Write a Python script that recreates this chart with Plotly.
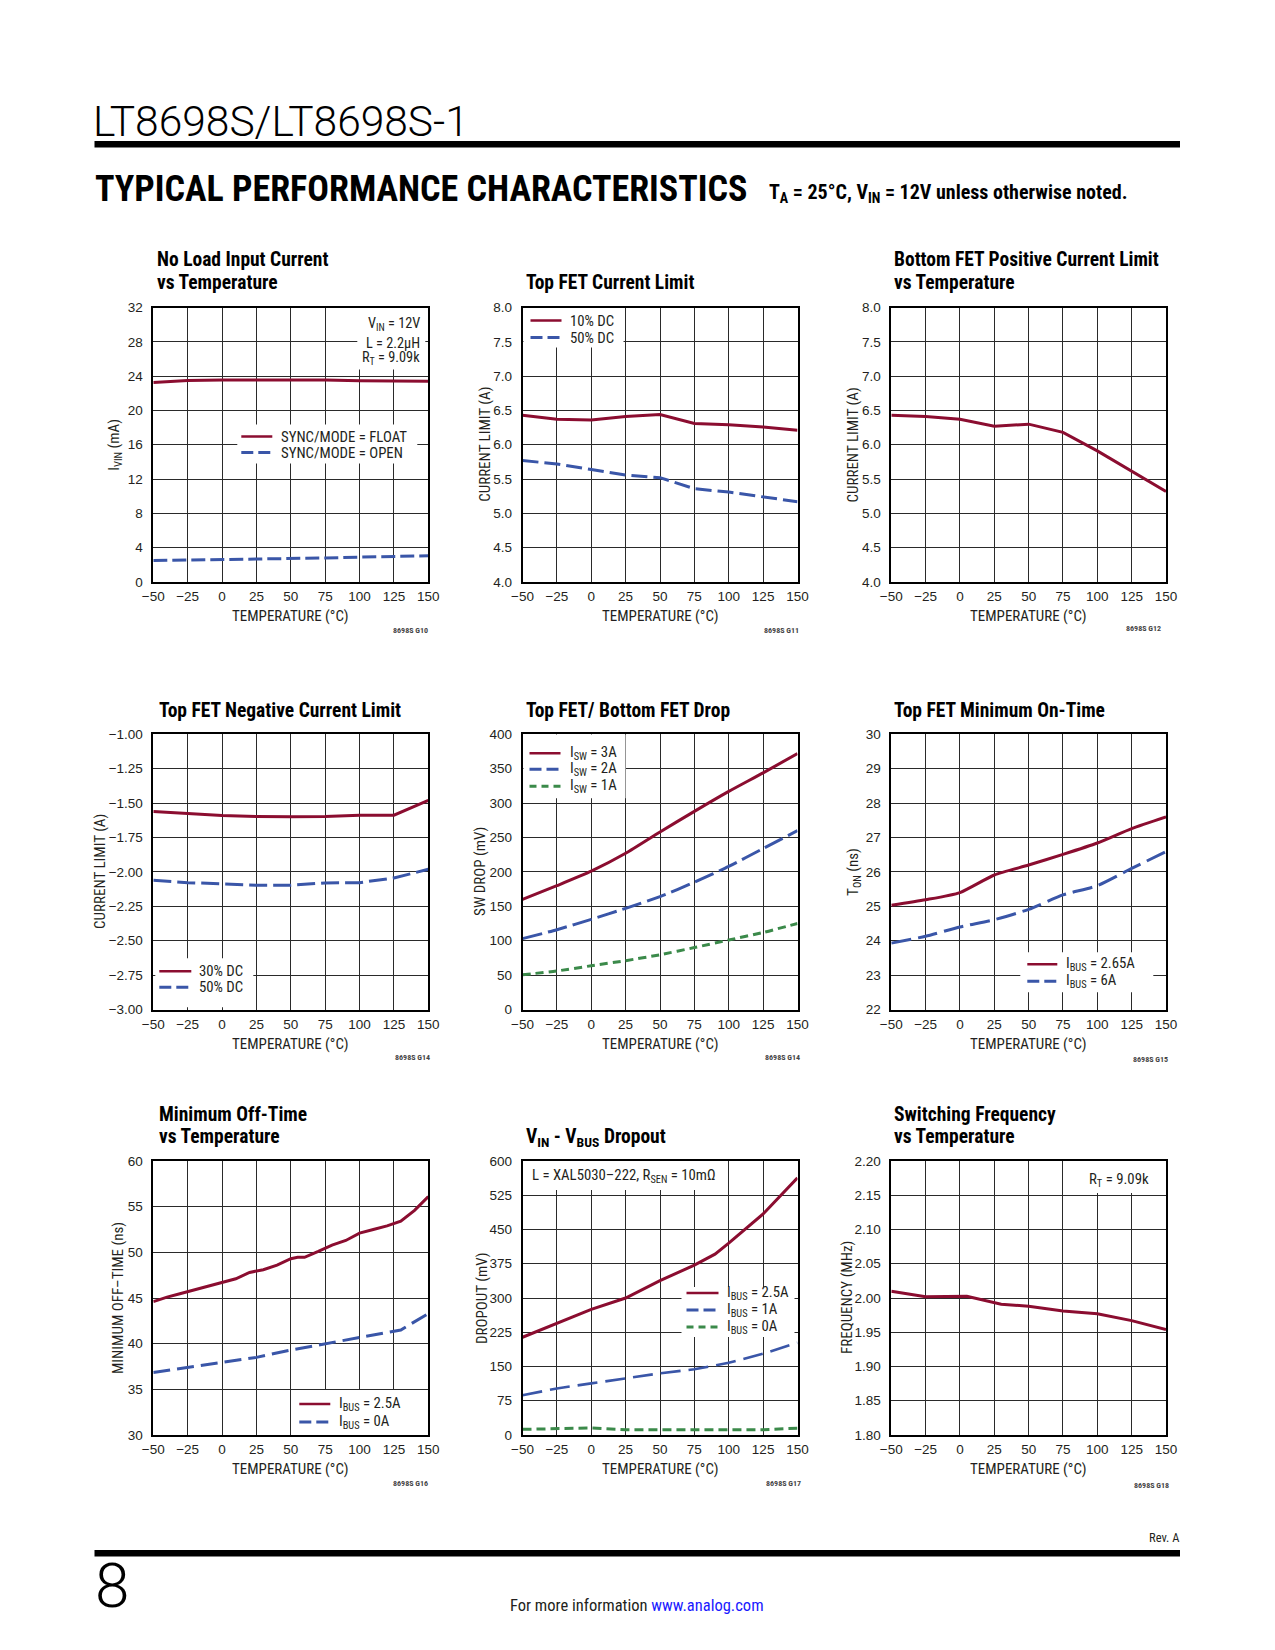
import plotly.graph_objects as go

W, H = 1275, 1650
OX, OY = 8, 8  # page body margin compensation
NARROW = "Roboto Condensed, Noto Sans Condensed, Liberation Sans Narrow, DejaVu Sans Condensed, Liberation Sans, sans-serif"
REG = "Liberation Sans, Arial, sans-serif"
INK = "#231F20"
RED = "#8B0D30"
BLUE = "#3A56A8"
GREEN = "#3B8A4A"

# ---------------- data ----------------
TEMP_TICKS = [-50, -25, 0, 25, 50, 75, 100, 125, 150]
T_STD = [-50, -25, 0, 25, 50, 75, 100, 125, 150]

NL_FLOAT = [23.25, 23.5, 23.55, 23.55, 23.5, 23.55, 23.45, 23.4, 23.4]
NL_OPEN = [2.5, 2.55, 2.6, 2.65, 2.7, 2.8, 2.9, 2.95, 3.05]

TOPLIM_10 = [6.43, 6.37, 6.36, 6.41, 6.44, 6.31, 6.29, 6.26, 6.21]
TOPLIM_50 = [5.77, 5.72, 5.64, 5.56, 5.52, 5.36, 5.31, 5.24, 5.17]

BOTLIM = [6.43, 6.41, 6.37, 6.27, 6.30, 6.18, 5.91, 5.62, 5.32]

NEG_30 = [-1.561, -1.578, -1.590, -1.597, -1.600, -1.597, -1.588, -1.588, -1.481]
NEG_50 = [-2.061, -2.078, -2.087, -2.097, -2.097, -2.080, -2.078, -2.044, -1.981]

DROP_3A = [160, 180, 201, 227, 258, 288, 317, 344, 372]
DROP_2A = [103, 116, 131, 147, 164, 185, 208, 234, 260]
DROP_1A = [50.5, 56, 63.6, 71, 79.6, 90, 101, 112, 125]

TON_265 = [25.03, 25.19, 25.40, 25.91, 26.2, 26.51, 26.84, 27.26, 27.60]
TON_6 = [23.93, 24.13, 24.40, 24.61, 24.91, 25.33, 25.60, 26.10, 26.59]

TOFF_T25 = [-50, -40, -30, -20, -10, 0, 10, 20, 30, 40, 50, 55, 60, 70, 80, 90, 100, 110, 120, 130, 140, 150]
TOFF_25 = [44.6, 45.1, 45.5, 45.9, 46.3, 46.7, 47.1, 47.8, 48.1, 48.6, 49.3, 49.45, 49.45, 50.1, 50.8, 51.3,
           52.1, 52.5, 52.9, 53.4, 54.6, 56.1]
TOFF_T0 = [-50, -25, 0, 25, 50, 75, 100, 130, 150]
TOFF_0 = [36.85, 37.4, 38.0, 38.5, 39.3, 40.0, 40.7, 41.5, 43.3]

DO_T25 = [-50, -25, 0, 25, 50, 75, 90, 100, 125, 130, 150]
DO_25 = [214, 245, 275, 300, 338, 372, 396, 420, 484, 500, 563]
DO_T1 = [-50, -25, 0, 25, 50, 75, 90, 100, 125, 150]
DO_1 = [87, 102, 113, 124, 135, 144, 152, 158, 178, 202]
DO_0 = [12.4, 14.6, 15.3, 11.7, 11.7, 11.7, 11.7, 11.7, 15]

FSW_T = [-50, -25, 5, 30, 50, 75, 100, 125, 150]
FSW = [2.010, 2.002, 2.0025, 1.991, 1.988, 1.981, 1.977, 1.967, 1.954]

# ---------------- layout geometry (px) ----------------
COLS = [(153.3, 428.3), (522.5, 797.5), (891.3, 1166.0)]
ROWS = [(307.5, 582.0), (734.3, 1009.5), (1161.0, 1435.0)]
XR = [-50, 150]


def px(x):
    return (x - OX) / W


def py(y):
    return 1 - (y - OY) / H


charts = [
    dict(col=0, row=0, yr=[0, 32], dt=4, fmt="d",
         title=["No Load Input Current", "vs Temperature"], tx=156, ty=[260, 282.5],
         ytitle="I<sub>VIN</sub> (mA)", ytx=115, gid="8698S G10", gidpos=(429, 630),
         traces=[(T_STD, NL_FLOAT, RED, "solid", 3, "linear"),
                 (T_STD, NL_OPEN, BLUE, "14px,5px", 3, "linear")],
         legend=dict(box=(84, 264, 117, 156), line=(88, 119), tx=127,
                     rows=[(129, "SYNC/MODE = FLOAT", RED, "solid"),
                           (145, "SYNC/MODE = OPEN", BLUE, "12px,5px")]),
         note=dict(box=(204, 272, 0, 62), x=268, anchor="right", size=14.3,
                   rows=[(17, "V<sub>IN</sub> = 12V"), (35, "L = 2.2µH"), (51, "R<sub>T</sub> = 9.09k")])),
    dict(col=1, row=0, yr=[4, 8], dt=0.5, fmt=".1f",
         title=["Top FET Current Limit"], tx=524.5, ty=[283],
         ytitle="CURRENT LIMIT (A)", ytx=485, gid="8698S G11", gidpos=(800, 630),
         traces=[(T_STD, TOPLIM_10, RED, "solid", 3, "linear"),
                 (T_STD, TOPLIM_50, BLUE, "16px,6px", 3, "linear")],
         legend=dict(box=(1, 101, 0, 40), line=(8, 39), tx=46,
                     rows=[(13, "10% DC", RED, "solid"),
                           (30, "50% DC", BLUE, "12px,5px")])),
    dict(col=2, row=0, yr=[4, 8], dt=0.5, fmt=".1f",
         title=["Bottom FET Positive Current Limit", "vs Temperature"], tx=893, ty=[260, 282.5],
         ytitle="CURRENT LIMIT (A)", ytx=852.7, gid="8698S G12", gidpos=(1162, 628),
         traces=[(T_STD, BOTLIM, RED, "solid", 3, "linear")]),
    dict(col=0, row=1, yr=[-3, -1], dt=0.25, fmt=".2f",
         title=["Top FET Negative Current Limit"], tx=158, ty=[710],
         ytitle="CURRENT LIMIT (A)", ytx=100, gid="8698S G14", gidpos=(431, 1057),
         traces=[(T_STD, NEG_30, RED, "solid", 3, "linear"),
                 (T_STD, NEG_50, BLUE, "18px,6px", 3, "linear")],
         legend=dict(box=(2, 100, 224, 273), line=(6, 38), tx=45,
                     rows=[(237, "30% DC", RED, "solid"),
                           (253, "50% DC", BLUE, "12px,5px")])),
    dict(col=1, row=1, yr=[0, 400], dt=50, fmt="d",
         title=["Top FET/ Bottom FET Drop"], tx=525, ty=[710],
         ytitle="SW DROP (mV)", ytx=480, gid="8698S G14", gidpos=(801, 1057),
         traces=[(T_STD, DROP_3A, RED, "solid", 3, "spline"),
                 (T_STD, DROP_2A, BLUE, "20px,6px", 3, "spline"),
                 (T_STD, DROP_1A, GREEN, "8px,5px", 3, "spline")],
         legend=dict(box=(1, 103, 0, 64), line=(7, 38), tx=46,
                     rows=[(19, "I<sub>SW</sub> = 3A", RED, "solid"),
                           (35, "I<sub>SW</sub> = 2A", BLUE, "12px,5px"),
                           (52, "I<sub>SW</sub> = 1A", GREEN, "7px,5px")])),
    dict(col=2, row=1, yr=[22, 30], dt=1, fmt="d",
         title=["Top FET Minimum On-Time"], tx=893, ty=[710],
         ytitle="T<sub>ON</sub> (ns)", ytx=854, gid="8698S G15", gidpos=(1169, 1059),
         traces=[(T_STD, TON_265, RED, "solid", 3, "spline"),
                 (T_STD, TON_6, BLUE, "20px,7px", 3, "spline")],
         legend=dict(box=(129, 262, 218, 258), line=(136, 166), tx=174,
                     rows=[(230, "I<sub>BUS</sub> = 2.65A", RED, "solid"),
                           (247, "I<sub>BUS</sub> = 6A", BLUE, "12px,5px")])),
    dict(col=0, row=2, yr=[30, 60], dt=5, fmt="d",
         title=["Minimum Off-Time", "vs Temperature"], tx=158, ty=[1114, 1136.5],
         ytitle="MINIMUM OFF–TIME (ns)", ytx=118, gid="8698S G16", gidpos=(429, 1483),
         traces=[(TOFF_T25, TOFF_25, RED, "solid", 3, "linear"),
                 (TOFF_T0, TOFF_0, BLUE, "17px,7px", 3, "linear")],
         legend=dict(box=(141, 270, 229, 274), line=(146, 177), tx=185,
                     rows=[(243, "I<sub>BUS</sub> = 2.5A", RED, "solid"),
                           (261, "I<sub>BUS</sub> = 0A", BLUE, "12px,5px")])),
    dict(col=1, row=2, yr=[0, 600], dt=75, fmt="d",
         title=["V<sub>IN</sub> - V<sub>BUS</sub> Dropout"], tx=525, ty=[1137],
         ytitle="DROPOUT (mV)", ytx=482, gid="8698S G17", gidpos=(802, 1483),
         traces=[(DO_T25, DO_25, RED, "solid", 3, "linear"),
                 (DO_T1, DO_1, BLUE, "20px,8px", 2.6, "linear"),
                 (T_STD, DO_0, GREEN, "9px,5px", 3, "linear")],
         legend=dict(box=(159, 272, 126, 176), line=(164, 196), tx=204,
                     rows=[(132, "I<sub>BUS</sub> = 2.5A", RED, "solid"),
                           (149, "I<sub>BUS</sub> = 1A", BLUE, "12px,5px"),
                           (166, "I<sub>BUS</sub> = 0A", GREEN, "7px,5px")]),
         note=dict(box=(0, 202, 0, 29), x=8, anchor="left", size=14.8,
                   rows=[(15, "L = XAL5030–222, R<sub>SEN</sub> = 10mΩ")])),
    dict(col=2, row=2, yr=[1.8, 2.2], dt=0.05, fmt=".2f",
         title=["Switching Frequency", "vs Temperature"], tx=893, ty=[1114, 1136.5],
         ytitle="FREQUENCY (MHz)", ytx=847, gid="8698S G18", gidpos=(1170, 1485),
         traces=[(FSW_T, FSW, RED, "solid", 3, "linear")],
         note=dict(box=(188, 270, 0, 32), x=259, anchor="right", size=14.8,
                   rows=[(19, "R<sub>T</sub> = 9.09k")])),
]

fig = go.Figure()
annotations = []
shapes = []


def text(x, y, s, size, family=NARROW, color=INK, anchor="left", angle=0, weight=None):
    f = dict(family=family, size=size, color=color)
    if weight is not None:
        f["weight"] = weight
    annotations.append(dict(x=px(x), y=py(y), xref="paper", yref="paper", text=s,
                            showarrow=False, xanchor=anchor, yanchor="middle",
                            textangle=angle, font=f, borderpad=0))


def fmt_tick(v, fmt):
    if fmt == "d":
        s = f"{int(round(v))}"
    elif fmt == ".1f":
        s = f"{v:.1f}"
    else:
        s = f"{v:.2f}"
    return s.replace("-", "−")


layout_axes = {}
for i, c in enumerate(charts):
    n = i + 1
    L, R = COLS[c["col"]]
    T, B = ROWS[c["row"]]
    xa = "xaxis" if n == 1 else f"xaxis{n}"
    ya = "yaxis" if n == 1 else f"yaxis{n}"
    xr = "x" if n == 1 else f"x{n}"
    yr_ = "y" if n == 1 else f"y{n}"
    y0, y1 = c["yr"]

    # pixel offsets inside the plot area -> axis data coordinates (for decorations only)
    def dx(v, L=L, R=R):
        return XR[0] + (XR[1] - XR[0]) * v / (R - L)

    def dy(v, T=T, B=B, y0=y0, y1=y1):
        return y1 - (y1 - y0) * v / (B - T)

    nt = int(round((y1 - y0) / c["dt"]))
    yticks = [y0 + k * c["dt"] for k in range(nt + 1)]
    common = dict(showgrid=True, gridcolor="#2a2a2a", gridwidth=1, showline=True,
                  linecolor="black", linewidth=1.6, mirror=True, ticks="",
                  zeroline=False, tickfont=dict(family=REG, size=13.5, color=INK),
                  fixedrange=True, automargin=False)
    layout_axes[xa] = dict(domain=[px(L), px(R)], anchor=yr_, range=XR,
                           tickmode="array", tickvals=TEMP_TICKS,
                           ticktext=[fmt_tick(v, "d") for v in TEMP_TICKS],
                           ticklabelstandoff=1, **common)
    layout_axes[ya] = dict(domain=[py(B), py(T)], anchor=xr, range=[y0, y1],
                           tickmode="array", tickvals=yticks,
                           ticktext=[fmt_tick(v, c["fmt"]) for v in yticks],
                           ticklabelstandoff=6, **common)
    for (xs, ys, col, dash, w, shp) in c["traces"]:
        fig.add_trace(go.Scatter(x=xs, y=ys, mode="lines", xaxis=xr, yaxis=yr_,
                                 line=dict(color=col, dash=dash, width=w, shape=shp,
                                           smoothing=0.6 if shp == "spline" else None),
                                 showlegend=False, hoverinfo="skip"))
    # titles
    for line, yy in zip(c["title"], c["ty"]):
        text(c["tx"], yy, f"<b>{line}</b>", 19.5, color="black")
    # axis titles
    text((L + R) / 2, B + 34, "TEMPERATURE (°C)", 15, anchor="center")
    text(c["ytx"], (T + B) / 2, c["ytitle"], 15, anchor="center", angle=-90)
    # graph id
    gx, gy = c["gidpos"]
    text(gx, gy, f"<b>{c['gid']}</b>", 8, color="#444", anchor="right")
    # legend
    lg = c.get("legend")
    if lg:
        bx0, bx1, by0, by1 = lg["box"]
        shapes.append(dict(type="rect", xref=xr, yref=yr_,
                           x0=dx(bx0), x1=dx(bx1), y0=dy(by1), y1=dy(by0),
                           fillcolor="white", line=dict(width=0), layer="between"))
        for (ry, lab, col, dash) in lg["rows"]:
            shapes.append(dict(type="line", xref=xr, yref=yr_,
                               x0=dx(lg["line"][0]), x1=dx(lg["line"][1]),
                               y0=dy(ry), y1=dy(ry),
                               line=dict(color=col, width=2.5 if dash == "solid" else 3, dash=dash),
                               layer="above"))
            text(L + lg["tx"], T + ry, lab, 14.8)
    nt_ = c.get("note")
    if nt_:
        bx0, bx1, by0, by1 = nt_["box"]
        shapes.append(dict(type="rect", xref=xr, yref=yr_,
                           x0=dx(bx0), x1=dx(bx1), y0=dy(by1), y1=dy(by0),
                           fillcolor="white", line=dict(width=0), layer="between"))
        for (ry, lab) in nt_["rows"]:
            text(L + nt_["x"], T + ry, lab, nt_["size"], anchor=nt_["anchor"])

# ---------------- page furniture ----------------
shapes.append(dict(type="rect", xref="paper", yref="paper", x0=px(94.5), x1=px(1180),
                   y0=py(147.5), y1=py(141), fillcolor="black", line=dict(width=0), layer="above"))
shapes.append(dict(type="rect", xref="paper", yref="paper", x0=px(94.5), x1=px(1180),
                   y0=py(1556.5), y1=py(1550), fillcolor="black", line=dict(width=0), layer="above"))

text(92, 121, "LT8698S/LT8698S-1", 42.5, family="Roboto, Lato, sans-serif", color="black", weight=300)
text(94, 189, "<b>TYPICAL PERFORMANCE CHARACTERISTICS</b>", 36, color="black")
text(768, 193, "<b>T<sub>A</sub> = 25°C, V<sub>IN</sub> = 12V unless otherwise noted.</b>", 20, color="black")
text(1180, 1537, "Rev. A", 12.5, anchor="right")
text(94, 1585, "8", 62, family="Roboto, Lato, sans-serif", color="black", weight=300)
text(637, 1605, "For more information <span style='color:#1a1aff'>www.analog.com</span>", 16.5,
     anchor="center")

fig.update_layout(width=W, height=H, margin=dict(l=0, r=0, t=0, b=0, autoexpand=False),
                  paper_bgcolor="white", plot_bgcolor="white", showlegend=False,
                  annotations=annotations, shapes=shapes, **layout_axes)

fig.write_html("out.html")
